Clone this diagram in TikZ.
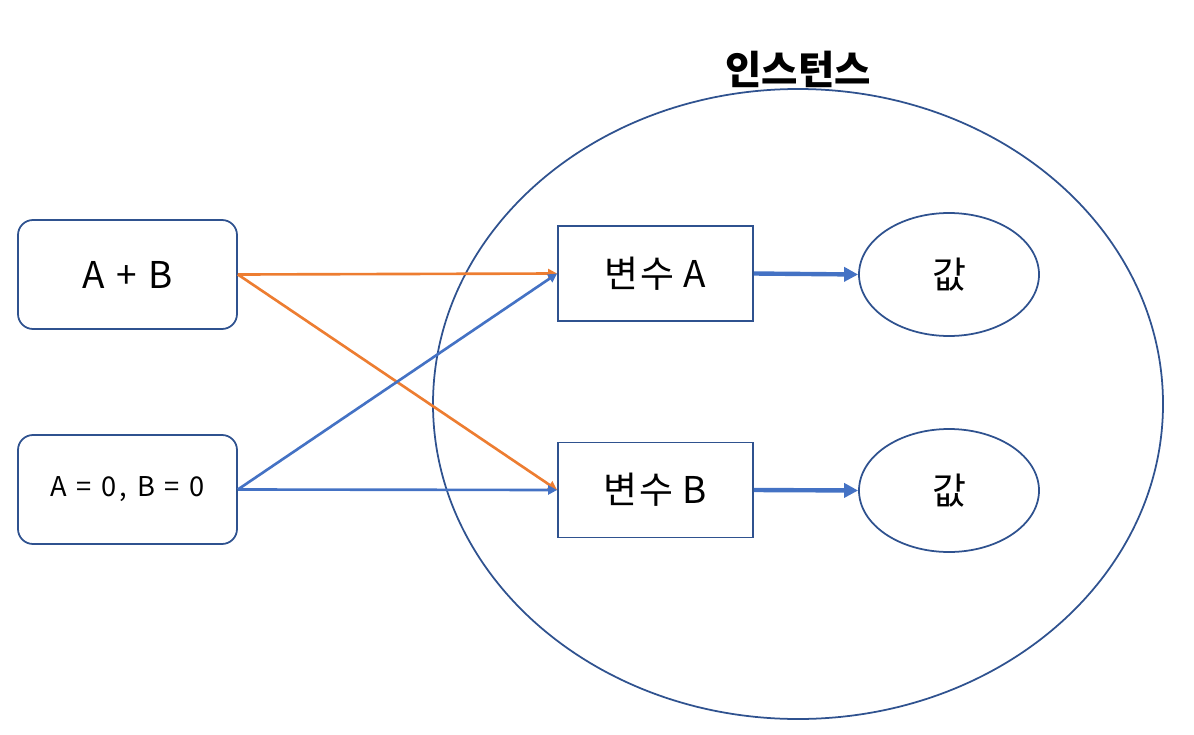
\documentclass[tikz,border=0pt]{standalone}
\usepackage{fontspec}
\setmainfont{Noto Sans CJK KR}
\usepackage{xcolor}
\usepackage{tikz}
\usetikzlibrary{arrows.meta,shapes.geometric}
\definecolor{insedge}{HTML}{2F528F}
\definecolor{insorangec}{HTML}{ED7D31}
\definecolor{insbluec}{HTML}{4472C4}
\tikzset{
  insround/.style={draw=insedge, line width=1pt, rounded corners=0.3cm, minimum width=4.380cm, minimum height=2.180cm, inner sep=0pt},
  insrect/.style={draw=insedge, line width=1pt, minimum width=3.900cm, minimum height=1.900cm, inner sep=0pt},
  insoval/.style={draw=insedge, line width=1pt, ellipse, minimum width=3.600cm, minimum height=2.460cm, inner sep=0pt},
  insorange/.style={line width=1.5pt, draw=insorangec, -{Triangle[length=0.18cm, width=0.18cm]}},
  insblue/.style={line width=1.5pt, draw=insbluec, -{Triangle[length=0.18cm, width=0.18cm]}},
  insbold/.style={line width=2.5pt, draw=insbluec, -{Triangle[length=0.28cm, width=0.28cm]}},
  inslarge/.style={font=\fontsize{21}{25}\selectfont\addfontfeature{LetterSpace=4}},
  insspaced/.style={font=\fontsize{21}{25}\selectfont\addfontfeature{LetterSpace=8}},
  inssmall/.style={font=\fontsize{15.5}{19}\selectfont\addfontfeature{LetterSpace=13}},
}

\begin{document}
\begin{tikzpicture}
\useasboundingbox (0,0) rectangle (23.880,14.680);
\draw[insedge, line width=1pt] (15.960,6.600) ellipse (7.300 and 6.300);
\node[font=\fontsize{22.5}{26}\selectfont\bfseries] (title) at (15.960,13.300) {인스턴스};
\node[insround, insspaced] (sum) at (2.550,9.190) {A + B};
\node[insround, inssmall] (init) at (2.550,4.890) {A = 0, B = 0};
\node[insrect, inslarge] (vara) at (13.110,9.210) {변수 A};
\node[insrect, inslarge] (varb) at (13.110,4.880) {변수 B};
\node[insoval, inslarge] (vala) at (18.980,9.190) {값};
\node[insoval, inslarge] (valb) at (18.980,4.870) {값};
\draw[insorange] (sum.east) -- (vara.west);
\draw[insorange] (sum.east) -- (varb.west);
\draw[insblue] (init.east) -- (vara.west);
\draw[insblue] (init.east) -- (varb.west);
\draw[insbold] (vara.east) -- (vala.west);
\draw[insbold] (varb.east) -- (valb.west);
\end{tikzpicture}
\end{document}
